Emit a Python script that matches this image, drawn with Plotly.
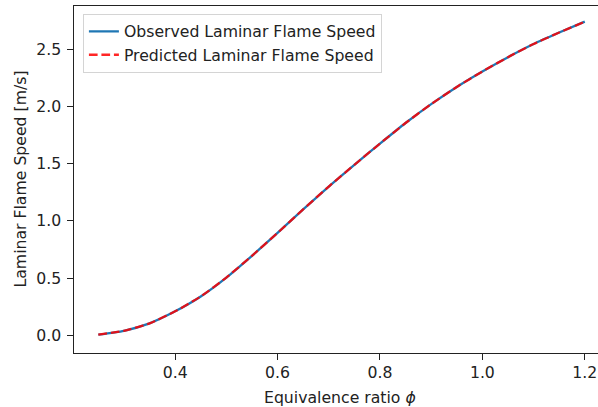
import plotly.graph_objects as go

phi = [0.25, 0.30, 0.35, 0.40, 0.45, 0.50, 0.55, 0.60, 0.65, 0.70,
       0.75, 0.80, 0.85, 0.90, 0.95, 1.00, 1.05, 1.10, 1.15, 1.20]
observed = [0.006, 0.04, 0.105, 0.21, 0.34, 0.505, 0.695, 0.895, 1.10, 1.30,
            1.49, 1.675, 1.855, 2.02, 2.17, 2.305, 2.43, 2.545, 2.645, 2.74]
predicted = [0.006, 0.04, 0.105, 0.21, 0.34, 0.505, 0.695, 0.895, 1.10, 1.30,
             1.49, 1.675, 1.855, 2.02, 2.17, 2.305, 2.43, 2.545, 2.645, 2.74]

x_ticks = [0.4, 0.6, 0.8, 1.0, 1.2]
y_ticks = [0.0, 0.5, 1.0, 1.5, 2.0, 2.5]

FONT = "DejaVu Sans"
FS = 15.7
INK = "#222"

fig = go.Figure()
fig.add_trace(go.Scatter(x=phi, y=observed, mode="lines", legendgroup="obs",
                         name="Observed Laminar Flame Speed",
                         line=dict(color="#1f77b4", width=2.3, shape="spline", smoothing=0.6)))
fig.add_trace(go.Scatter(x=phi, y=predicted, mode="lines", legendgroup="pred",
                         name="Predicted Laminar Flame Speed",
                         line=dict(color="rgba(255,0,0,0.85)", width=2.3, dash="8.7px,3.8px",
                                   shape="spline", smoothing=0.6)))

fig.update_layout(
    width=598, height=407,
    margin=dict(l=74, r=0, t=6, b=54),
    paper_bgcolor="white", plot_bgcolor="white",
    font=dict(family=FONT, size=FS, color=INK),
    showlegend=True,
    legend=dict(x=0.017, y=0.978, xanchor="left", yanchor="top",
                bgcolor="rgba(255,255,255,0.8)", bordercolor="#d4d4d4", borderwidth=1,
                font=dict(family=FONT, size=FS, color=INK),
                tracegroupgap=0, itemwidth=30),
    xaxis=dict(range=[0.2025, 1.2258], tickvals=x_ticks,
               ticktext=[f"{v:.1f}" for v in x_ticks],
               showgrid=False, zeroline=False, showline=True, mirror=True,
               linecolor=INK, linewidth=1.2, ticks="outside", ticklen=5.5,
               tickcolor=INK, tickwidth=1.2),
    yaxis=dict(range=[-0.154, 2.877], tickvals=y_ticks,
               ticktext=[f"{v:.1f}" for v in y_ticks],
               showgrid=False, zeroline=False, showline=True, mirror=False,
               linecolor=INK, linewidth=1.2, ticks="outside", ticklen=5.5,
               tickcolor=INK, tickwidth=1.2, ticklabelstandoff=3),
)

fig.add_annotation(text="Laminar Flame Speed [m/s]", xref="paper", yref="paper",
                   x=(20 - 74) / 524, y=0.5, xanchor="center", yanchor="middle",
                   textangle=-90, showarrow=False, borderpad=0,
                   font=dict(family=FONT, size=FS, color=INK))
fig.add_annotation(text="Equivalence ratio <i>ϕ</i>", xref="x", yref="paper",
                   x=0.7224, y=-(397 - 353) / 347, xanchor="center", yanchor="middle",
                   showarrow=False, borderpad=0,
                   font=dict(family=FONT, size=FS, color=INK))

fig.write_html("out.html")
